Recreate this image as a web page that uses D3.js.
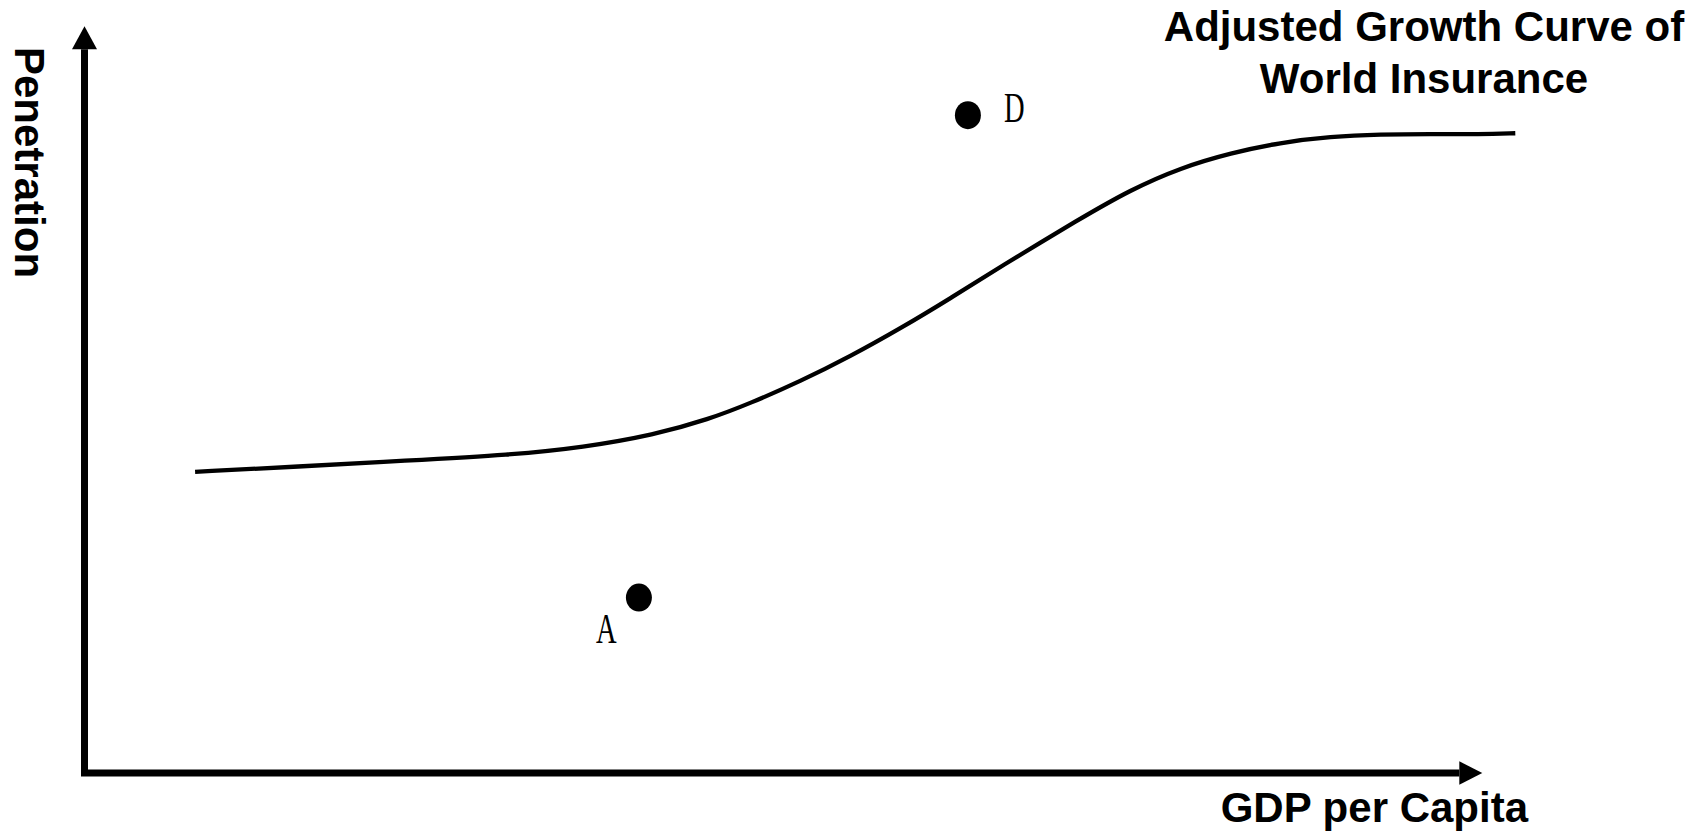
<!DOCTYPE html>
<html>
<head>
<meta charset="utf-8">
<script src="https://cdn.jsdelivr.net/npm/d3@7"></script>
<style>
  html, body { margin: 0; padding: 0; background: #fff; }
  svg { display: block; }
</style>
</head>
<body>
<svg id="chart" width="1708" height="834"></svg>
<script>
// ---- data (abstract units) ----
const curveX = [7.9, 15.2, 22.9, 30.5, 35.6, 40.7, 44.6, 47.6, 51.1, 54.7, 58.3, 61.9, 65.4, 71.1, 74.7, 78.3, 81.9, 85.4, 89.0, 92.6, 96.1, 99.7, 102.2];
const curveY = [40.7, 41.4, 42.2, 43.0, 44.0, 45.7, 47.8, 50.0, 52.9, 56.3, 60.1, 64.2, 68.4, 74.9, 78.8, 81.8, 83.8, 85.2, 86.0, 86.3, 86.35, 86.3, 86.45];
const pointNames = ["A", "D"];
const pointX = [39.6, 63.1];
const pointY = [23.7, 88.9];
const titleLines = ["Adjusted Growth Curve of", "World Insurance"];
const xLabel = "GDP per Capita";
const yLabel = "Penetration";

const svg = d3.select("#chart");
const x = d3.scaleLinear().domain([0, 110]).range([84.5, 1624.5]);
const y = d3.scaleLinear().domain([0, 100]).range([773, 33]);

// axes
const axisTopY = 97.8, axisRightX = 98.2;
svg.append("path")
  .attr("d", `M${x(0)},${y(axisTopY)} L${x(0)},${y(0) + 3.5} M${x(0) - 0.5},${y(0)} L${x(axisRightX)},${y(0)}`)
  .attr("fill", "none").attr("stroke", "#000").attr("stroke-width", 7);
// arrowheads
const ay = y(axisTopY);
svg.append("path")
  .attr("d", `M${x(0)},${ay - 23} L${x(0) + 12.5},${ay} L${x(0) - 12.5},${ay} Z`)
  .attr("fill", "#000");
const ax = x(axisRightX);
svg.append("path")
  .attr("d", `M${ax + 23},${y(0)} L${ax},${y(0) - 11.7} L${ax},${y(0) + 11.7} Z`)
  .attr("fill", "#000");

// curve
const curveData = curveX.map((d, i) => [d, curveY[i]]);
svg.append("path")
  .datum(curveData)
  .attr("d", d3.line().x(d => x(d[0])).y(d => y(d[1])).curve(d3.curveBasis))
  .attr("fill", "none").attr("stroke", "#000").attr("stroke-width", 4.3);

// points
const pts = pointNames.map((n, i) => ({ n, x: pointX[i], y: pointY[i] }));
svg.selectAll("ellipse.pt").data(pts).enter().append("ellipse")
  .attr("class", "pt")
  .attr("cx", d => x(d.x)).attr("cy", d => y(d.y))
  .attr("rx", 13).attr("ry", 14).attr("fill", "#000");

// point labels (condensed serif)
const labelOffsets = { A: [-43, 45], D: [36, 7] };
svg.selectAll("text.pl").data(pts).enter().append("text")
  .attr("class", "pl")
  .attr("transform", d => `translate(${x(d.x) + labelOffsets[d.n][0]},${y(d.y) + labelOffsets[d.n][1]}) scale(0.68,1)`)
  .attr("font-family", "'Liberation Serif', 'Times New Roman', serif")
  .attr("font-size", 42)
  .attr("fill", "#000")
  .text(d => d.n);

const boldFont = "'Liberation Sans', Arial, sans-serif";
// title
svg.selectAll("text.title").data(titleLines).enter().append("text")
  .attr("class", "title")
  .attr("x", 1424).attr("y", (d, i) => 41 + i * 52)
  .attr("text-anchor", "middle")
  .attr("font-family", boldFont).attr("font-weight", "bold").attr("font-size", 42)
  .text(d => d);

// x label
svg.append("text")
  .attr("x", 1528).attr("y", 822)
  .attr("text-anchor", "end")
  .attr("font-family", boldFont).attr("font-weight", "bold").attr("font-size", 42)
  .text(xLabel);

// y label
svg.append("text")
  .attr("transform", "translate(15,47) rotate(90)")
  .attr("text-anchor", "start")
  .attr("font-family", boldFont).attr("font-weight", "bold").attr("font-size", 42)
  .text(yLabel);
</script>
</body>
</html>
